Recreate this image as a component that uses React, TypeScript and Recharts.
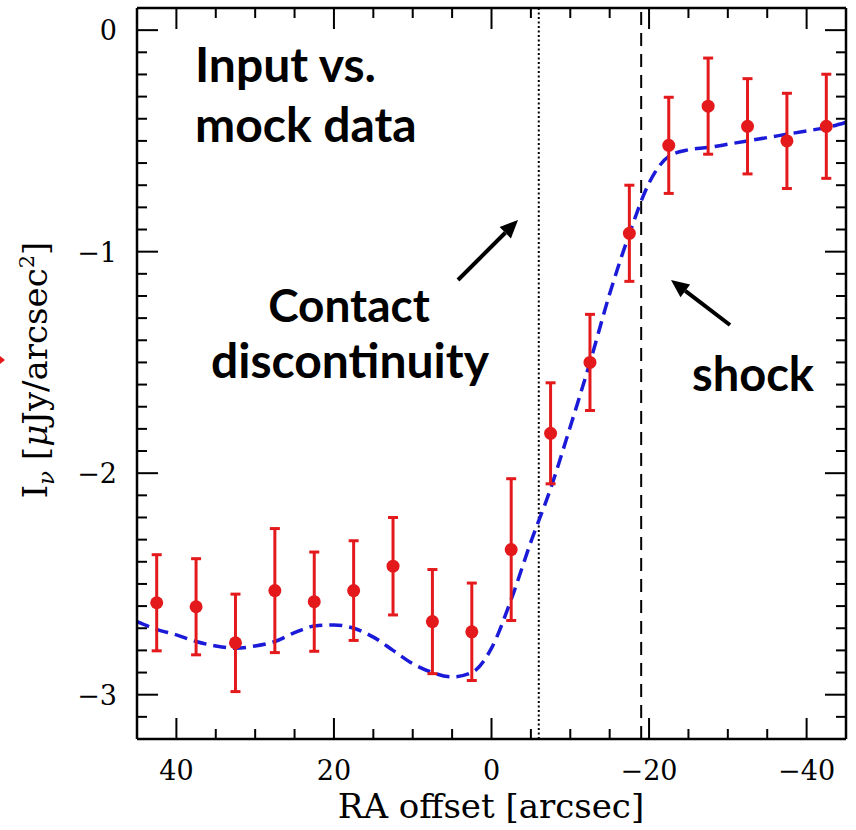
import React from "react";
import {
  ComposedChart,
  Scatter,
  Line,
  XAxis,
  YAxis,
  ErrorBar,
  ReferenceLine,
} from "recharts";

// mock data points (RA offset in arcsec, intensity, 1-sigma error)
const raOffset = [42.5, 37.5, 32.5, 27.5, 22.5, 17.5, 12.5, 7.5, 2.5, -2.5, -7.5, -12.5, -17.5, -22.5, -27.5, -32.5, -37.5, -42.5];
const intensity = [-2.585, -2.603, -2.766, -2.53, -2.58, -2.53, -2.42, -2.67, -2.716, -2.345, -1.82, -1.5, -0.917, -0.52, -0.343, -0.434, -0.5, -0.434];
const intensityErr = [0.217, 0.217, 0.22, 0.28, 0.224, 0.225, 0.22, 0.235, 0.22, 0.32, 0.228, 0.217, 0.217, 0.217, 0.217, 0.215, 0.215, 0.235];

// input model profile (blue dashed)
const modelX = [45, 42.5, 40, 37.5, 35, 32.5, 30, 27.5, 25, 22.5, 20, 17.5, 15, 12.5, 10, 7.5, 5, 2.5, 0, -2.5, -5, -7.5, -10, -12.5, -15, -17.5, -20, -22.5, -25, -27.5, -30, -32.5, -35, -37.5, -40, -42.5, -45];
const modelY = [-2.67, -2.705, -2.73, -2.76, -2.78, -2.79, -2.78, -2.76, -2.72, -2.69, -2.685, -2.7, -2.74, -2.8, -2.86, -2.9, -2.92, -2.9, -2.79, -2.57, -2.31, -2.07, -1.79, -1.5, -1.19, -0.92, -0.69, -0.57, -0.54, -0.53, -0.515, -0.5, -0.485, -0.47, -0.455, -0.44, -0.416];

// vertical markers
const contactX = -6;
const shockX = -19;

const xDomain = [-45, 45];
const yDomain = [-3.2, 0.1];
const xMajor = [-40, -20, 0, 20, 40];
const yMajor = [-3, -2, -1, 0];
// minor tick marks every 5 arcsec / 0.1
const xMinor = Array.from({ length: 17 }, (_, i) => -40 + i * 5).filter((v) => !xMajor.includes(v));
const yMinor = Array.from({ length: 34 }, (_, i) => (-32 + i) / 10).filter((v) => !yMajor.some((m) => Math.abs(m - v) < 1e-6));

const points = raOffset.map((x, i) => ({ x, y: intensity[i], err: intensityErr[i] }));
const model = modelX.map((x, i) => ({ x, y: modelY[i] }));

// layout
const W = 856;
const H = 830;
const MARGIN = { top: 7, right: 9, bottom: 0, left: 0 };
const X_AXIS_H = 91;
const Y_AXIS_W = 137;
const plotTop = MARGIN.top + 1;
const plotBottom = H - MARGIN.bottom - X_AXIS_H;
const plotLeft = MARGIN.left + Y_AXIS_W;
const plotRight = W - MARGIN.right - 1;
const xPx = (v: number) => plotLeft + ((xDomain[1] - v) / (xDomain[1] - xDomain[0])) * (plotRight - plotLeft);
const yPx = (v: number) => plotTop + ((yDomain[1] - v) / (yDomain[1] - yDomain[0])) * (plotBottom - plotTop);

const RED = "#e3191c";
const BLUE = "#1a1ad8";
const SERIF = "'DejaVu Serif', serif";
const SANS = "Lato, 'Open Sans', sans-serif";
const MAJOR_LEN = 21;
const MINOR_LEN = 10;

const fmt = (v: number) => (v < 0 ? "\u2212" + Math.abs(v) : String(v));

const XTick = (props: any) => {
  const { x, payload } = props;
  return (
    <g>
      <line x1={x} y1={plotBottom} x2={x} y2={plotBottom - MAJOR_LEN} stroke="#000" strokeWidth={2} />
      <text x={x} y={plotBottom + 41} textAnchor="middle" fontFamily={SERIF} fontSize={27} fill="#000">
        {fmt(payload.value)}
      </text>
    </g>
  );
};

const YTick = (props: any) => {
  const { y, payload } = props;
  return (
    <g>
      <line x1={plotLeft} y1={y} x2={plotLeft + MAJOR_LEN} y2={y} stroke="#000" strokeWidth={2} />
      <text x={plotLeft - 20} y={y + 10} textAnchor="end" fontFamily={SERIF} fontSize={27} fill="#000">
        {fmt(payload.value)}
      </text>
    </g>
  );
};

// inward tick marks on the mirrored top/right edges and the minor marks
const FrameTicks = () => (
  <g stroke="#000" strokeWidth={2}>
    {xMajor.map((v) => (
      <line key={`tM${v}`} x1={xPx(v)} y1={plotTop} x2={xPx(v)} y2={plotTop + MAJOR_LEN} />
    ))}
    {xMinor.map((v) => (
      <g key={`xm${v}`}>
        <line x1={xPx(v)} y1={plotTop} x2={xPx(v)} y2={plotTop + MINOR_LEN} />
        <line x1={xPx(v)} y1={plotBottom} x2={xPx(v)} y2={plotBottom - MINOR_LEN} />
      </g>
    ))}
    {yMajor.map((v) => (
      <line key={`rM${v}`} x1={plotRight} y1={yPx(v)} x2={plotRight - MAJOR_LEN} y2={yPx(v)} />
    ))}
    {yMinor.map((v) => (
      <g key={`ym${v}`}>
        <line x1={plotLeft} y1={yPx(v)} x2={plotLeft + MINOR_LEN} y2={yPx(v)} />
        <line x1={plotRight} y1={yPx(v)} x2={plotRight - MINOR_LEN} y2={yPx(v)} />
      </g>
    ))}
  </g>
);

const Dot = (props: any) => <circle cx={props.cx} cy={props.cy} r={6.5} fill={RED} />;

const Arrow = ({ x1, y1, x2, y2 }: { x1: number; y1: number; x2: number; y2: number }) => {
  const a = Math.atan2(y2 - y1, x2 - x1);
  const hl = 18;
  const hw = 8;
  const bx = x2 - hl * Math.cos(a);
  const by = y2 - hl * Math.sin(a);
  const px = -Math.sin(a) * hw;
  const py = Math.cos(a) * hw;
  return (
    <g>
      <line x1={x1} y1={y1} x2={bx} y2={by} stroke="#000" strokeWidth={4} />
      <polygon points={`${x2},${y2} ${bx + px},${by + py} ${bx - px},${by - py}`} fill="#000" />
    </g>
  );
};

const axisLine = { stroke: "#000", strokeWidth: 2.5 };

export default function App() {
  return (
    <div style={{ position: "absolute", left: 0, top: 0, width: W, height: H, background: "#fff" }}>
      <ComposedChart width={W} height={H} margin={MARGIN}>
        <XAxis
          type="number"
          dataKey="x"
          domain={xDomain}
          reversed
          allowDataOverflow
          ticks={xMajor}
          interval={0}
          height={X_AXIS_H}
          tickSize={0}
          tickMargin={0}
          tickLine={false}
          axisLine={axisLine}
          tick={(p: any) => <XTick {...p} />}
        />
        <XAxis
          xAxisId="top"
          orientation="top"
          type="number"
          dataKey="x"
          domain={xDomain}
          reversed
          allowDataOverflow
          height={1}
          tick={false}
          tickLine={false}
          axisLine={axisLine}
        />
        <YAxis
          type="number"
          domain={yDomain}
          allowDataOverflow
          ticks={yMajor}
          interval={0}
          width={Y_AXIS_W}
          tickSize={0}
          tickMargin={0}
          tickLine={false}
          axisLine={axisLine}
          tick={(p: any) => <YTick {...p} />}
        />
        <YAxis
          yAxisId="right"
          orientation="right"
          type="number"
          domain={yDomain}
          allowDataOverflow
          width={1}
          tick={false}
          tickLine={false}
          axisLine={axisLine}
        />
        <ReferenceLine x={contactX} stroke="#000" strokeWidth={2} strokeDasharray="2 2.5" />
        <ReferenceLine x={shockX} stroke="#000" strokeWidth={2} strokeDasharray="13 8" />
        {/* invisible copy so the mirrored top/right axes have a series */}
        <Line
          data={model}
          dataKey="y"
          xAxisId="top"
          yAxisId="right"
          stroke="none"
          dot={false}
          activeDot={false}
          isAnimationActive={false}
        />
        <Line
          data={model}
          dataKey="y"
          type="monotone"
          stroke={BLUE}
          strokeWidth={3.5}
          strokeDasharray="13 7"
          dot={false}
          activeDot={false}
          isAnimationActive={false}
        />
        <Scatter data={points} dataKey="y" shape={<Dot />} isAnimationActive={false}>
          <ErrorBar dataKey="err" direction="y" width={5} strokeWidth={3} stroke={RED} isAnimationActive={false} />
        </Scatter>
      </ComposedChart>

      <svg width={W} height={H} style={{ position: "absolute", left: 0, top: 0, pointerEvents: "none" }}>
        <FrameTicks />
        <text x={195} y={82} fontFamily={SANS} fontWeight={700} fontSize={48} fill="#000">Input vs.</text>
        <text x={195} y={142} fontFamily={SANS} fontWeight={700} fontSize={48} fill="#000">mock data</text>
        <text x={349} y={322} textAnchor="middle" fontFamily={SANS} fontWeight={700} fontSize={46} fill="#000">Contact</text>
        <text x={350} y={378} textAnchor="middle" fontFamily={SANS} fontWeight={700} fontSize={48} fill="#000">discontinuity</text>
        <text x={692} y={391} fontFamily={SANS} fontWeight={700} fontSize={47} fill="#000">shock</text>
        <Arrow x1={458} y1={280} x2={518} y2={220} />
        <Arrow x1={730} y1={325} x2={671} y2={280} />
        <text x={491} y={818} textAnchor="middle" fontFamily={SERIF} fontSize={34} fill="#000">RA offset [arcsec]</text>
        <text transform="translate(47,370) rotate(-90)" textAnchor="middle" fontFamily={SERIF} fontSize={34} fill="#000">
          I<tspan fontSize={23} fontStyle="italic" dy={7}>ν</tspan>
          <tspan dy={-7}> [</tspan>
          <tspan fontStyle="italic">μ</tspan>Jy/arcsec<tspan fontSize={21} dy={-13}>2</tspan>
          <tspan dy={13}>]</tspan>
        </text>
        <polygon points="0,356 5,360 0,364" fill={RED} />
      </svg>
    </div>
  );
}
